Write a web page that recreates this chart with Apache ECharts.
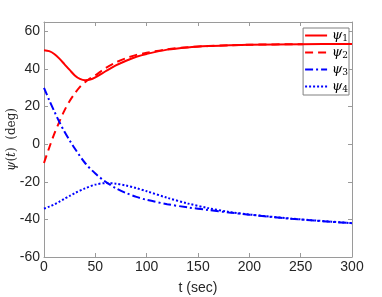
<!DOCTYPE html>
<html><head><meta charset="utf-8">
<script src="https://cdn.jsdelivr.net/npm/echarts@6/dist/echarts.min.js"></script>
<style>html,body{margin:0;padding:0;background:#fff}#c{width:382px;height:297px}</style>
</head><body><div id="c"></div>
<script>
var tA = [0,5,10,15,20,25,30,35,40,45,50,60,70,80,90,100,120,140,160,180,200,250,300];
var psi1 = [50,49.5,48,45.5,42.5,39.5,36.6,34.7,34,34.4,35.6,38.8,41.9,44.4,46.5,48,50.3,51.5,52.2,52.6,52.9,53.2,53.3];
var psi2 = [-10,-2,5.5,12,18,23,27,30.5,33,35,36.6,40.5,43.5,45.8,47.5,48.6,50.5,51.6,52.2,52.6,52.9,53.2,53.3];
var tB = [0,5,10,15,20,25,30,40,50,60,70,80,90,100,120,140,160,180,200,220,240,260,280,300];
var psi3 = [30,23.5,17.5,11.8,6.6,2,-2.3,-10,-15.6,-20,-23.4,-26,-28,-29.6,-31.9,-33.6,-35,-36.3,-37.5,-38.6,-39.6,-40.5,-41.3,-42];
var psi4 = [-34.3,-33.2,-32,-30.6,-29,-27.5,-26,-23.5,-21.5,-20.7,-21,-22,-23.4,-25,-28.5,-31.5,-34,-36,-37.4,-38.5,-39.5,-40.4,-41.2,-42];
var xTicks = [0,50,100,150,200,250,300];
var yTicks = [-60,-40,-20,0,20,40,60];

function pairs(t, v){ return t.map(function(x,i){return [x, v[i]];}); }
var axisCol = '#9a9a9a';
var labCol = '#262626';
var font = 'Liberation Sans';
function boxAxis(extra){
  return Object.assign({
    axisLine:{show:true,onZero:false,lineStyle:{color:axisCol,width:1}},
    axisTick:{show:true,inside:true,length:4,lineStyle:{color:axisCol}},
    splitLine:{show:false}
  }, extra);
}
var chart = echarts.init(document.getElementById('c'), null, {renderer:'canvas'});
var dashes = {d:[8,5], dd:[8,3,2,3], dot:[2,2]};
chart.setOption({
  animation:false,
  grid:{left:44,right:30,top:22,bottom:40,containLabel:false,outerBoundsMode:'none'},
  legend:{
    right:33, top:28, orient:'vertical', itemWidth:22, itemHeight:14, itemGap:3,
    backgroundColor:'#fff', borderColor:'#808080', borderWidth:1, borderRadius:0, padding:[1,1,1,1],
    itemStyle:{opacity:0},
    data:['ψ1','ψ2','ψ3','ψ4'],
    formatter:function(n){ return '{p|ψ}{s|'+n.slice(1)+'}'; },
    textStyle:{padding:0,rich:{p:{fontFamily:'DejaVu Serif',fontStyle:'italic',fontSize:13,color:'#000'},
                     s:{fontFamily:'DejaVu Serif',fontSize:9,color:'#000',verticalAlign:'bottom',padding:[6,0,0,0]}}}
  },
  xAxis:[
    boxAxis({type:'value',min:0,max:300,interval:50,position:'bottom',
      name:'t (sec)',nameLocation:'middle',nameGap:24,
      nameTextStyle:{fontFamily:font,fontSize:14,color:labCol},
      axisLabel:{fontFamily:font,fontSize:14,color:labCol,margin:3}}),
    boxAxis({type:'value',min:0,max:300,interval:50,position:'top',axisLabel:{show:false}})
  ],
  yAxis:[
    boxAxis({type:'value',min:-60,max:65,interval:20,position:'left',
      name:'{i|ψ}{n|(}{i|t}{n|)  (deg)}',nameLocation:'middle',nameGap:26,nameMoveOverlap:false,
      nameTextStyle:{rich:{i:{fontFamily:'DejaVu Serif',fontStyle:'italic',fontSize:12,color:labCol},
                           n:{fontFamily:'DejaVu Serif',fontSize:12,color:labCol}}},
      axisLabel:{fontFamily:font,fontSize:14,color:labCol,margin:4,
        formatter:function(v){ return yTicks.indexOf(v)>=0 ? String(v) : ''; }}}),
    boxAxis({type:'value',min:-60,max:65,interval:20,position:'right',axisLabel:{show:false}})
  ],
  series:[
    {name:'ψ1',type:'line',smooth:0.3,symbol:'none',data:pairs(tA,psi1),color:'#ff0000',lineStyle:{width:2,type:'solid'},z:4},
    {name:'ψ2',type:'line',smooth:0.3,symbol:'none',data:pairs(tA,psi2),color:'#ff0000',lineStyle:{width:2,type:dashes.d},z:3},
    {name:'ψ3',type:'line',smooth:0.3,symbol:'none',data:pairs(tB,psi3),color:'#0000ff',lineStyle:{width:2,type:dashes.dd},z:4},
    {name:'ψ4',type:'line',smooth:0.3,symbol:'none',data:pairs(tB,psi4),color:'#0000ff',lineStyle:{width:2,type:dashes.dot},z:3}
  ]
});
</script></body></html>
